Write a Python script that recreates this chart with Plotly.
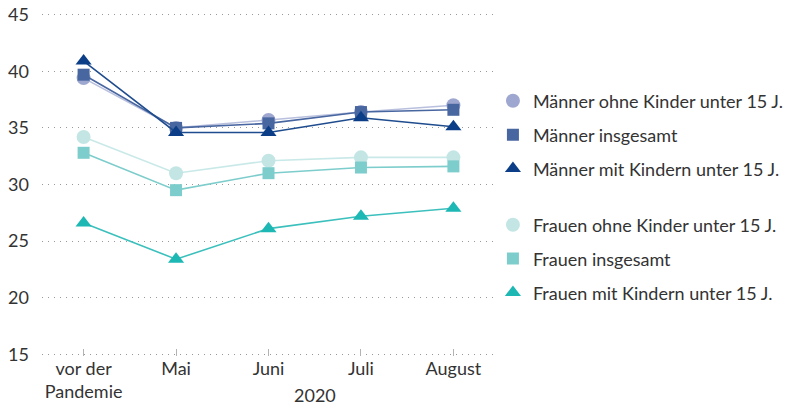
import plotly.graph_objects as go

categories = ["vor der<br>Pandemie", "Mai", "Juni", "Juli", "August"]
y_ticks = [15, 20, 25, 30, 35, 40, 45]

maenner_ohne = [39.4, 35.0, 35.7, 36.4, 37.0]
maenner_ges = [39.7, 35.0, 35.4, 36.4, 36.6]
maenner_mit = [40.9, 34.6, 34.6, 35.9, 35.1]
frauen_ohne = [34.2, 31.0, 32.1, 32.4, 32.4]
frauen_ges = [32.8, 29.5, 31.0, 31.5, 31.6]
frauen_mit = [26.6, 23.4, 26.1, 27.2, 27.9]

series = [
    ("Männer ohne Kinder unter 15 J.", maenner_ohne, "#9ea7cf", "#b9c0de", "circle", "legend"),
    ("Männer insgesamt", maenner_ges, "#4866a0", "#4866a0", "square", "legend"),
    ("Männer mit Kindern unter 15 J.", maenner_mit, "#0c3e88", "#1f4c8e", "triangle-up", "legend"),
    ("Frauen ohne Kinder unter 15 J.", frauen_ohne, "#c3e6e5", "#c9e9e8", "circle", "legend2"),
    ("Frauen insgesamt", frauen_ges, "#7dcdcc", "#7dcdcc", "square", "legend2"),
    ("Frauen mit Kindern unter 15 J.", frauen_mit, "#1db7b4", "#3cc0bd", "triangle-up", "legend2"),
]

FONT = "Source Sans Pro, Lato, sans-serif"
fig = go.Figure()
x = list(range(len(categories)))
for name, vals, mc, lc, sym, lg in series:
    fig.add_trace(go.Scatter(
        x=x, y=vals, mode="lines+markers", name=name, showlegend=False,
        line=dict(color=lc, width=1.6),
        marker=dict(symbol=sym, size=14 if sym != "square" else 12, color=mc),
    ))
for i, (name, vals, mc, lc, sym, lg) in enumerate(series):
    fig.add_trace(go.Scatter(
        x=[None], y=[None], mode="markers", name=name, legend=lg,
        legendgroup="g%d" % i,
        marker=dict(symbol=sym, size=14 if sym != "square" else 12, color=mc),
    ))

fig.add_annotation(text="2020", x=2.5, xref="x", y=-0.077, yref="paper",
                   showarrow=False, yanchor="top",
                   font=dict(size=18, color="#333333", family=FONT))

legend_common = dict(
    xref="container", yref="container", xanchor="left", yanchor="top",
    font=dict(size=18, color="#333333", family=FONT),
    bgcolor="rgba(0,0,0,0)", tracegroupgap=7.5, itemwidth=30,
)
fig.update_layout(
    width=793, height=403,
    margin=dict(l=42, r=298, t=13, b=47, autoexpand=False),
    paper_bgcolor="white", plot_bgcolor="white",
    font=dict(family=FONT, size=18, color="#333333"),
    xaxis=dict(
        range=[-0.45, 4.45], tickmode="array", tickvals=x, ticktext=categories,
        showgrid=False, zeroline=False, showline=False, automargin=False,
        ticks="inside", ticklen=7, tickcolor="#b3b3b3", tickwidth=1,
        tickfont=dict(size=18, color="#333333"),
    ),
    yaxis=dict(
        range=[14.85, 45.15], tickmode="array", tickvals=y_ticks, automargin=False,
        showgrid=True, gridcolor="#999999", griddash="1px,5px", gridwidth=1,
        zeroline=False, showline=False, ticks="", ticklabelstandoff=12,
        tickfont=dict(size=18, color="#333333"),
    ),
    legend=dict(x=0.6216, y=0.795, **legend_common),
    legend2=dict(x=0.6216, y=0.4876, **legend_common),
)

fig.write_html("out.html", config={"displayModeBar": False},
               post_script="document.body.style.margin='0';")
